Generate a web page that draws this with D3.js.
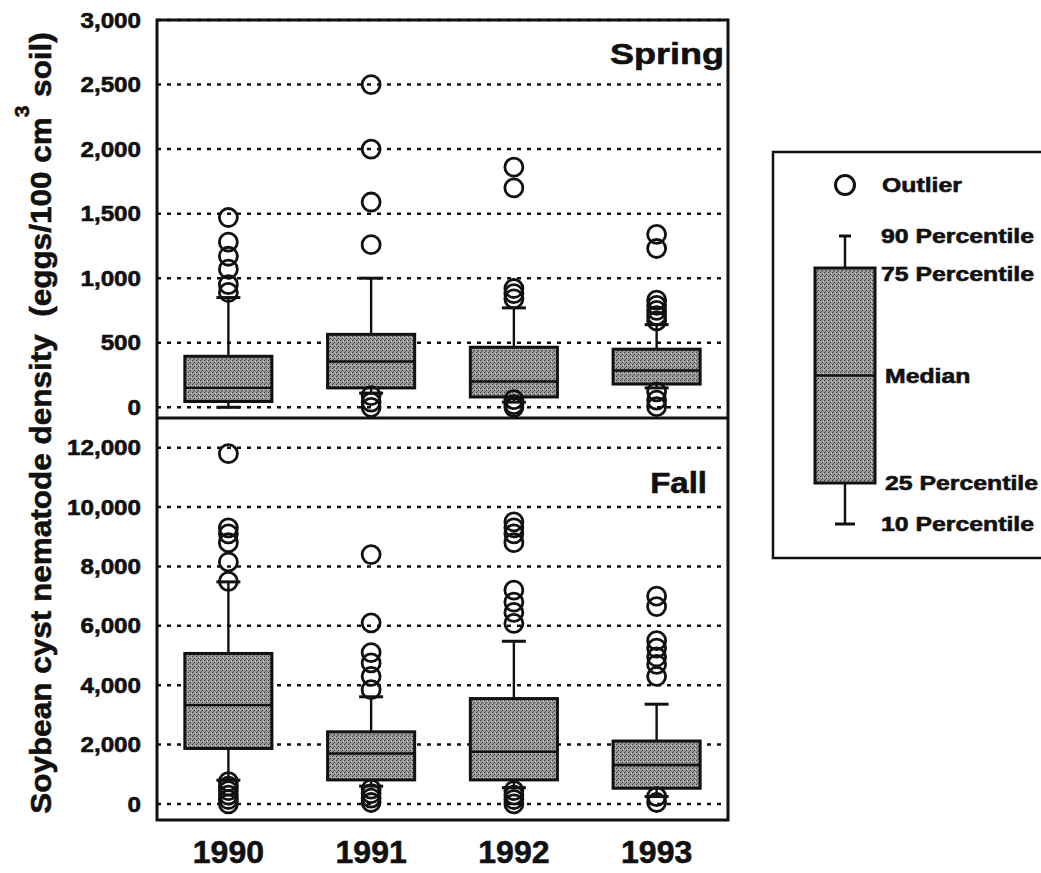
<!DOCTYPE html>
<html>
<head>
<meta charset="utf-8">
<script src="https://cdn.jsdelivr.net/npm/d3@7"></script>
<style>
  body { margin: 0; background: #fff; }
  text { font-family: "Liberation Sans", Arial, sans-serif; font-weight: bold; fill: #111; stroke: #111; stroke-width: 0.6px; }
</style>
</head>
<body>
<svg width="1041" height="873"></svg>
<script>
// data
var years = ["1990", "1991", "1992", "1993"];

var springTicks = [0, 500, 1000, 1500, 2000, 2500, 3000];
var springP10 = [0, 110, 40, 150];
var springP25 = [45, 150, 80, 180];
var springMedian = [150, 355, 200, 285];
var springP75 = [395, 565, 465, 450];
var springP90 = [850, 1000, 770, 640];
var springOutliers = [
  [1470, 1280, 1170, 1070, 950, 890],
  [2500, 2000, 1590, 1260, 90, 40, 0],
  [1860, 1700, 920, 880, 840, 60, 20, 0],
  [1340, 1230, 830, 790, 750, 710, 670, 120, 55, 5]
];

var fallTicks = [0, 2000, 4000, 6000, 8000, 10000, 12000];
var fallP10 = [800, 600, 550, 250];
var fallP25 = [1870, 810, 810, 530];
var fallMedian = [3330, 1700, 1760, 1310];
var fallP75 = [5070, 2430, 3550, 2120];
var fallP90 = [7480, 3610, 5480, 3360];
var fallOutliers = [
  [11800, 9300, 9100, 8800, 8150, 7500, 750, 600, 450, 300, 150, 0],
  [8400, 6100, 5100, 4750, 4300, 3850, 500, 350, 200, 50],
  [9500, 9300, 9100, 8800, 7200, 6800, 6450, 6080, 450, 300, 150, 0],
  [7000, 6650, 5500, 5250, 4950, 4700, 4300, 250, 50]
];

var legendLabels = ["90 Percentile", "75 Percentile", "Median", "25 Percentile", "10 Percentile"];
var legendValues = [90, 75, 50, 25, 10];

var svg = d3.select("svg");

// stippled grey fill like the printed boxes
var pat = svg.append("defs").append("pattern")
    .attr("id", "stipple")
    .attr("width", 4).attr("height", 4)
    .attr("patternUnits", "userSpaceOnUse");
pat.append("rect").attr("width", 4).attr("height", 4).attr("fill", "#9a9a9a");
pat.append("rect").attr("x", 0).attr("y", 0).attr("width", 1).attr("height", 1).attr("fill", "#3a3a3a");
pat.append("rect").attr("x", 2).attr("y", 2).attr("width", 1).attr("height", 1).attr("fill", "#3a3a3a");
pat.append("rect").attr("x", 1).attr("y", 3).attr("width", 1).attr("height", 1).attr("fill", "#5a5a5a");
pat.append("rect").attr("x", 3).attr("y", 1).attr("width", 1).attr("height", 1).attr("fill", "#c8c8c8");

var plotLeft = 157, plotRight = 728, plotTop = 20, plotMid = 418, plotBottom = 820;

var x = d3.scaleBand().domain(years).range([plotLeft, plotRight]).padding(0);
var boxW = x.bandwidth() * 0.61;
var capW = 24;

var panels = [
  { name: "Spring", y: d3.scaleLinear().domain([-83, 3000]).range([plotMid, plotTop]),
    ticks: springTicks, p10: springP10, p25: springP25, med: springMedian, p75: springP75, p90: springP90, out: springOutliers,
    tx: 724, ty: 64, ts: 1.2 },
  { name: "Fall", y: d3.scaleLinear().domain([-540, 13000]).range([plotBottom, plotMid]),
    ticks: fallTicks, p10: fallP10, p25: fallP25, med: fallMedian, p75: fallP75, p90: fallP90, out: fallOutliers,
    tx: 707, ty: 493, ts: 1.1 }
];

panels.forEach(function(p) {
  var rows = years.map(function(yr, i) {
    return { year: yr, p10: p.p10[i], p25: p.p25[i], med: p.med[i], p75: p.p75[i], p90: p.p90[i], out: p.out[i] };
  });

  // dotted grid
  svg.append("g").selectAll("line")
    .data(p.ticks)
    .join("line")
      .attr("x1", plotLeft).attr("x2", plotRight)
      .attr("y1", function(d) { return p.y(d); })
      .attr("y2", function(d) { return p.y(d); })
      .attr("stroke", "#111")
      .attr("stroke-width", 2.5)
      .attr("stroke-dasharray", "4,6");

  // y axis labels
  var ax = svg.append("g")
      .attr("transform", "translate(" + plotLeft + ",0)")
      .call(d3.axisLeft(p.y).tickValues(p.ticks).tickSize(0).tickPadding(16).tickFormat(d3.format(",")));
  ax.select(".domain").remove();
  ax.selectAll(".tick text")
      .attr("x", 0)
      .attr("transform", "translate(-16,0) scale(1.1,1)")
      .style("font-size", "22px");

  var g = svg.append("g");
  var cx = function(d) { return x(d.year) + x.bandwidth() / 2; };

  // whiskers
  g.selectAll(".whisker").data(rows).join("line")
      .attr("x1", cx).attr("x2", cx)
      .attr("y1", function(d) { return p.y(d.p10); })
      .attr("y2", function(d) { return p.y(d.p90); })
      .attr("stroke", "#111").attr("stroke-width", 2.4);

  ["p10", "p90"].forEach(function(k) {
    g.selectAll(".cap-" + k).data(rows).join("line")
        .attr("x1", function(d) { return cx(d) - capW / 2; })
        .attr("x2", function(d) { return cx(d) + capW / 2; })
        .attr("y1", function(d) { return p.y(d[k]); })
        .attr("y2", function(d) { return p.y(d[k]); })
        .attr("stroke", "#111").attr("stroke-width", 3);
  });

  // boxes
  g.selectAll(".box").data(rows).join("rect")
      .attr("x", function(d) { return cx(d) - boxW / 2; })
      .attr("width", boxW)
      .attr("y", function(d) { return p.y(d.p75); })
      .attr("height", function(d) { return p.y(d.p25) - p.y(d.p75); })
      .attr("fill", "url(#stipple)")
      .attr("stroke", "#111").attr("stroke-width", 3);

  g.selectAll(".median").data(rows).join("line")
      .attr("x1", function(d) { return cx(d) - boxW / 2; })
      .attr("x2", function(d) { return cx(d) + boxW / 2; })
      .attr("y1", function(d) { return p.y(d.med); })
      .attr("y2", function(d) { return p.y(d.med); })
      .attr("stroke", "#111").attr("stroke-width", 2.4);

  // outliers
  rows.forEach(function(d) {
    g.append("g").selectAll("circle").data(d.out).join("circle")
        .attr("cx", cx(d))
        .attr("cy", function(v) { return p.y(v); })
        .attr("r", 9)
        .attr("fill", "none")
        .attr("stroke", "#111").attr("stroke-width", 2.8);
  });

  svg.append("text")
      .attr("transform", "translate(" + p.tx + "," + p.ty + ") scale(" + p.ts + ",1)")
      .attr("text-anchor", "end")
      .style("font-size", "30px")
      .text(p.name);
});

// frame
svg.append("rect")
    .attr("x", plotLeft).attr("y", plotTop)
    .attr("width", plotRight - plotLeft).attr("height", plotBottom - plotTop)
    .attr("fill", "none").attr("stroke", "#111").attr("stroke-width", 3);
svg.append("line")
    .attr("x1", plotLeft).attr("x2", plotRight).attr("y1", plotMid).attr("y2", plotMid)
    .attr("stroke", "#111").attr("stroke-width", 3);

// year labels
svg.append("g").selectAll("text").data(years).join("text")
    .attr("x", function(d) { return x(d) + x.bandwidth() / 2; })
    .attr("y", 863)
    .attr("text-anchor", "middle")
    .style("font-size", "32px")
    .text(function(d) { return d; });

// y title
var yt = svg.append("text")
    .attr("transform", "translate(51,423) rotate(-90) scale(1.05,1)")
    .attr("text-anchor", "middle")
    .style("font-size", "30px");
yt.append("tspan").text("Soybean cyst nematode density\u00a0\u00a0(eggs/100 cm");
yt.append("tspan").attr("dy", -22).style("font-size", "20px").text("3");
yt.append("tspan").attr("dy", 22).text("\u00a0soil)");

// legend
svg.append("rect")
    .attr("x", 773).attr("y", 152)
    .attr("width", 300).attr("height", 406)
    .attr("fill", "none").attr("stroke", "#111").attr("stroke-width", 2.5);

var ly = d3.scaleLinear().domain([10, 25, 75, 90]).range([524, 483, 268, 236]);
var lcx = 845, lw = 60;
var lg = svg.append("g");
lg.append("line").attr("x1", lcx).attr("x2", lcx).attr("y1", ly(10)).attr("y2", ly(90))
    .attr("stroke", "#111").attr("stroke-width", 2.4);
lg.append("line").attr("x1", lcx - 10).attr("x2", lcx + 10).attr("y1", ly(10)).attr("y2", ly(10))
    .attr("stroke", "#111").attr("stroke-width", 3);
lg.append("line").attr("x1", lcx - 6).attr("x2", lcx + 6).attr("y1", ly(90)).attr("y2", ly(90))
    .attr("stroke", "#111").attr("stroke-width", 3);
lg.append("rect").attr("x", lcx - lw / 2).attr("width", lw)
    .attr("y", ly(75)).attr("height", ly(25) - ly(75))
    .attr("fill", "url(#stipple)").attr("stroke", "#111").attr("stroke-width", 3);
lg.append("line").attr("x1", lcx - lw / 2).attr("x2", lcx + lw / 2).attr("y1", ly(50)).attr("y2", ly(50))
    .attr("stroke", "#111").attr("stroke-width", 2.4);
lg.append("circle").attr("cx", lcx).attr("cy", 185).attr("r", 9.5)
    .attr("fill", "none").attr("stroke", "#111").attr("stroke-width", 3);

lg.append("text")
    .attr("transform", "translate(882,192) scale(1.24,1)")
    .style("font-size", "20px")
    .text("Outlier");
lg.selectAll(".lab").data(legendLabels).join("text")
    .attr("transform", function(d, i) {
      var yy = ly(legendValues[i]) + 7 + (legendValues[i] === 75 ? 6 : 0);
      return "translate(" + (legendValues[i] === 50 || legendValues[i] === 25 ? 885 : 881) + "," + yy + ") scale(1.24,1)";
    })
    .style("font-size", "20px")
    .text(function(d) { return d; });
</script>
</body>
</html>
